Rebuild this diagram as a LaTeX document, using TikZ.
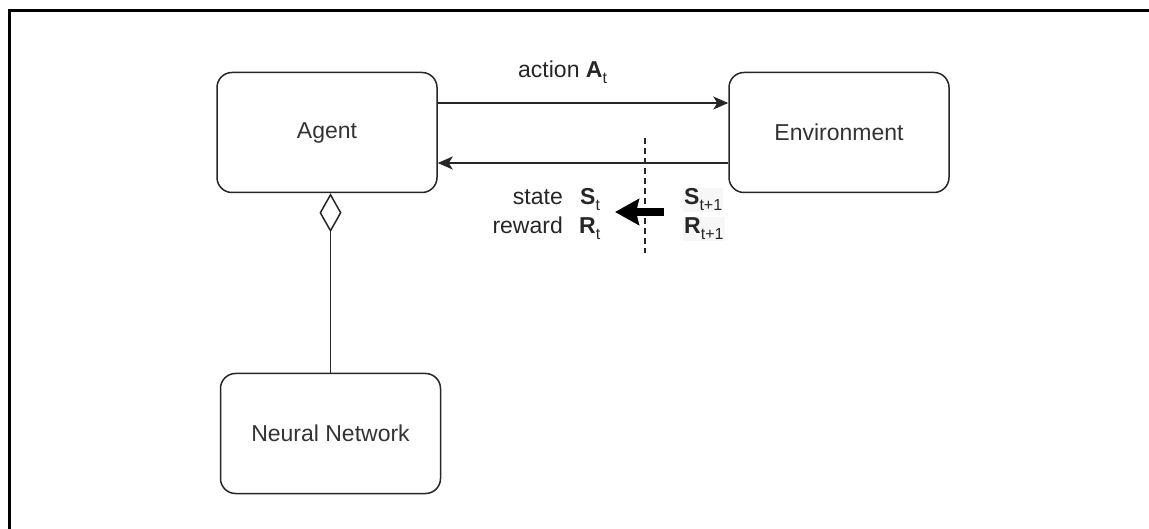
\documentclass[tikz,border=0pt]{standalone}
\usepackage{fontspec}
\setmainfont{Liberation Sans}
\usetikzlibrary{arrows.meta,shapes.geometric}

% lowered index text, set a size smaller than the label
\newcommand\lowidx[1]{\raisebox{-6pt}{\fontsize{16}{18}\selectfont #1}}

\begin{document}
\begin{tikzpicture}[x=1pt,y=-1pt,
  box/.style={draw=black!85, line width=1.5pt, rounded corners=15pt,
    minimum width=220pt, minimum height=120pt, inner sep=0pt,
    font=\fontsize{23}{28}\selectfont, text=black!80},
  lbl/.style={font=\fontsize{23}{28}\selectfont, text=black!85, inner sep=0pt},
  nextlbl/.style={lbl, fill=black!3, inner sep=1pt},
  flow/.style={draw=black!85, line width=1.6pt,
    -{Stealth[length=15pt,width=13pt,inset=4pt]}},
]
\useasboundingbox (0,0) rectangle (1149,529);

% outer frame (only its left and top sides fall on the page)
\draw[line width=3pt] (9.5,545) -- (9.5,11) -- (1165,11);

% components
\node[box] (agent) at (327,132.5) {Agent};
\node[box] (env) at (839,132.5) {Environment};
\node[box] (nn) at (330.5,433.5) {Neural Network};

% interaction loop
\draw[flow] ([yshift=29.5pt]agent.east) -- ([yshift=29.5pt]env.west);
\draw[flow] ([yshift=-30.5pt]env.west) -- ([yshift=-30.5pt]agent.east);
\node[lbl, anchor=base west] (act) at (518,78) {action \textbf{A}\lowidx{t}};

% time step boundary
\draw[black!85, line width=1.2pt, dash pattern=on 6pt off 4pt] (645,138) -- (645,253);
\draw[black, line width=8pt, -{Stealth[length=24pt,width=26pt,inset=3pt]}] (664,212) -- (615,212);

\node[lbl, anchor=base east] (stl) at (563,205) {state};
\node[lbl, anchor=base east] (rwl) at (563,234) {reward};
\node[lbl, anchor=base west] (st) at (580,205) {\textbf{S}\lowidx{t}};
\node[lbl, anchor=base west] (rt) at (579,234) {\textbf{R}\lowidx{t}};
\node[nextlbl, anchor=base west] (st1) at (683,205) {\textbf{S}\lowidx{t+1}};
\node[nextlbl, anchor=base west] (rt1) at (683,234) {\textbf{R}\lowidx{t+1}};

% aggregation: the agent contains the network
\draw[draw=black!85, line width=1.5pt,
  -{Diamond[open,fill=white,length=39pt,width=22pt]}]
  (nn.north) -- (nn.north |- agent.south);
\end{tikzpicture}
\end{document}
